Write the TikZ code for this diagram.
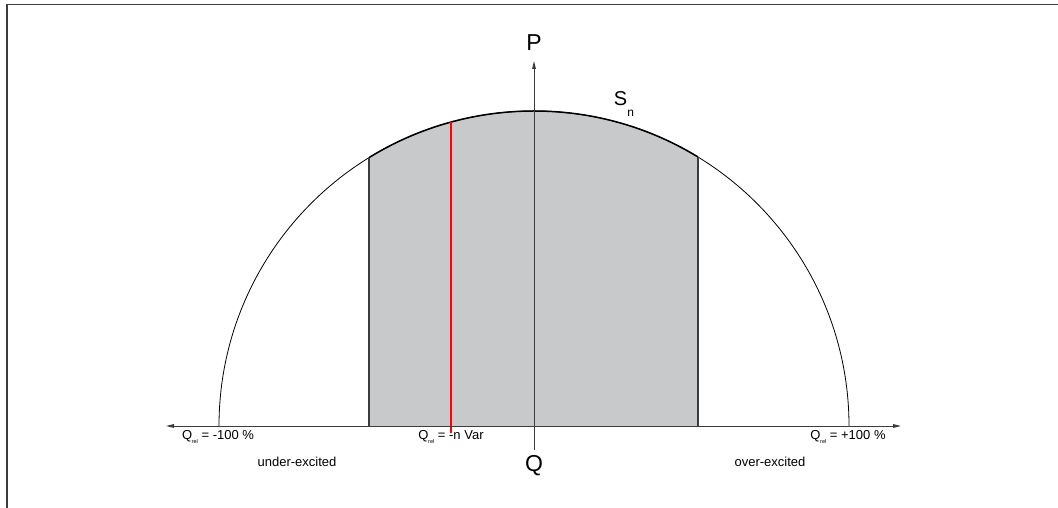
\documentclass[tikz,border=0pt]{standalone}
\usepackage{fontspec}
\setmainfont{Liberation Sans}
\usetikzlibrary{arrows.meta, positioning, calc}
\definecolor{capgray}{RGB}{200,201,203}
\definecolor{linegray}{RGB}{60,60,60}
\definecolor{oppred}{RGB}{255,0,0}
\newcommand{\qrel}{Q\kern-0.3pt\raisebox{-0.45ex}{\fontsize{5.5}{6}\selectfont rel}}
\tikzset{
  axis/.style  = {-{Triangle[length=8pt,width=3.6pt]}, line width=0.9pt, draw=linegray},
  lbl/.style   = {font=\fontsize{13}{15}\selectfont, inner sep=0pt},
  big/.style   = {font=\fontsize{23}{25}\selectfont, inner sep=0pt},
  limit/.style = {line width=1.4pt, draw=linegray},
}
\begin{document}
\begin{tikzpicture}[x=1pt, y=1pt]
  \useasboundingbox (0,0) rectangle (1058,508);
  % frame
  \draw[line width=1.2pt, draw=linegray] (7,0) -- (7,503.5) -- (1058,503.5);
  % capability area
  \coordinate (o) at (534,82);
  \begin{scope}
    \clip (369,82) rectangle (698,420);
    \fill[capgray] (o) circle (315);
    \draw[line width=1.5pt] (o) circle (315);
  \end{scope}
  \draw[line width=0.8pt] (219,82) arc[start angle=180, end angle=0, radius=315];
  \draw[limit] (369,82) -- (369,350.3);
  \draw[limit] (698,82) -- (698,351.3);
  % operating point
  \coordinate (qn) at (451,75);
  \coordinate (qnt) at (451,386);
  \draw[draw=oppred, line width=1.1pt] (qn) -- (qnt);
  % axes
  \coordinate (qleft)  at (166,82);
  \coordinate (qright) at (901,82);
  \coordinate (pbot)   at (534,58);
  \coordinate (ptop)   at (534,447);
  \draw[axis] (o) -- (qleft);
  \draw[axis] (o) -- (qright);
  \draw[line width=0.9pt, draw=linegray] (o) -- (pbot);
  \draw[axis] (o) -- (ptop);
  \node[big] (p) at (534,465) {P};
  \node[big] (q) at (534,42) {Q};
  \node[font=\fontsize{20}{22}\selectfont, inner sep=0pt] (s) at (624,404)
       {S\raisebox{-1ex}{\fontsize{12}{14}\selectfont n}};
  % labels
  \node[lbl] (lneg)  at (218,71) {\qrel{} = -100 \%};
  \node[lbl] (lvar)  at (451,71) {\qrel{} = -n Var};
  \node[lbl] (lpos)  at (848,71) {\qrel{} = +100 \%};
  \node[lbl] (under) at (297,46) {under-excited};
  \node[lbl] (over)  at (770,46) {over-excited};
\end{tikzpicture}
\end{document}
